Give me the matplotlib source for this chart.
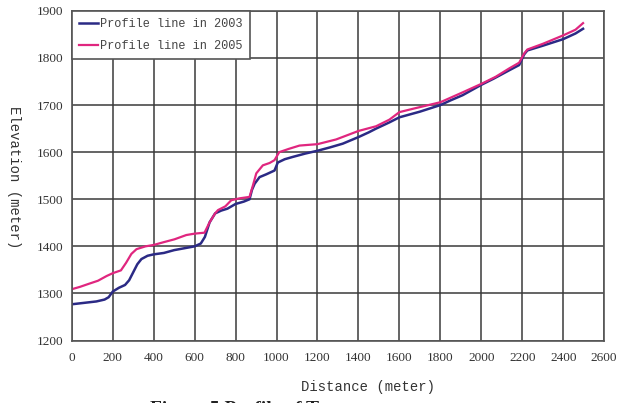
import matplotlib
matplotlib.use("Agg")
from matplotlib import pyplot as plt

# distance (m) / elevation (m)
dist_2003 = [0, 40, 80, 120, 160, 180, 200, 230, 260, 280, 300, 320, 340, 370, 400, 450, 500, 550, 600,
             630, 650, 673, 700, 730, 760, 800, 840, 868, 880, 893, 917, 950, 990, 1006, 1040, 1080,
             1140, 1200, 1260, 1323, 1400, 1450, 1486, 1550, 1600, 1700, 1800, 1850, 1909, 2000,
             2060, 2137, 2185, 2210, 2225, 2300, 2400, 2460, 2497]
elev_2003 = [1277, 1279, 1281, 1283, 1287, 1292, 1304, 1312, 1318, 1328, 1345, 1362, 1373, 1380, 1383,
             1386, 1392, 1396, 1400, 1406, 1420, 1451, 1470, 1476, 1480, 1490, 1495, 1500, 1520, 1533,
             1547, 1553, 1561, 1578, 1585, 1590, 1597, 1603, 1610, 1618, 1632, 1642, 1650, 1663, 1674,
             1686, 1700, 1710, 1721, 1743, 1756, 1774, 1785, 1808, 1816, 1826, 1840, 1852, 1862]

dist_2005 = [0, 40, 80, 128, 170, 200, 240, 265, 291, 316, 360, 400, 450, 502, 559, 600, 648, 673, 700,
             714, 750, 779, 820, 868, 885, 901, 933, 966, 990, 1013, 1060, 1112, 1200, 1291, 1400,
             1486, 1551, 1600, 1665, 1800, 1909, 2000, 2070, 2137, 2185, 2210, 2225, 2300, 2400,
             2460, 2497]
elev_2005 = [1309, 1314, 1320, 1327, 1337, 1343, 1349, 1365, 1384, 1394, 1400, 1403, 1409, 1415, 1424,
             1427, 1429, 1451, 1470, 1477, 1485, 1498, 1502, 1505, 1530, 1555, 1572, 1577, 1583, 1600,
             1607, 1614, 1617, 1627, 1645, 1655, 1669, 1685, 1692, 1706, 1727, 1745, 1760, 1778, 1790,
             1810, 1818, 1830, 1848, 1860, 1874]

xticks = list(range(0, 2601, 200))
yticks = list(range(1200, 1901, 100))

mono = "Liberation Mono"
serif = "Liberation Serif"

fig = plt.figure(figsize=(6.19, 4.03), dpi=100)
ax = fig.add_axes([0.116, 0.155, 0.86, 0.818])

ax.plot(dist_2003, elev_2003, color="#2b2a85", lw=1.8, label="Profile line in 2003")
ax.plot(dist_2005, elev_2005, color="#e0267f", lw=1.6, label="Profile line in 2005")

ax.set_xlim(0, 2600)
ax.set_ylim(1200, 1900)
ax.set_xticks(xticks)
ax.set_yticks(yticks)
ax.grid(True, color="#3a3a3a", lw=1.1)
ax.set_axisbelow(True)
ax.tick_params(length=0, labelsize=9.5, colors="#333333")
ax.tick_params(axis="x", pad=8)
ax.tick_params(axis="y", pad=6)
for lab in ax.get_xticklabels() + ax.get_yticklabels():
    lab.set_family(serif)
for s in ax.spines.values():
    s.set_color("#555555")
    s.set_linewidth(1.2)

leg = ax.legend(loc="upper left", prop={"family": mono, "size": 8.6}, frameon=True, fancybox=False,
                borderaxespad=0, handlelength=1.6, handletextpad=0.2, borderpad=0.6, labelspacing=0.85,
                framealpha=1)
leg.get_frame().set_edgecolor("#555555")
leg.get_frame().set_linewidth(1.2)
for t in leg.get_texts():
    t.set_color("#444444")

fig.text(0.595, 0.04, "Distance (meter)", family=mono, fontsize=10, color="#333333",
         ha="center", va="center")
fig.text(0.022, 0.56, "Elevation (meter)", family=mono, fontsize=10, color="#333333",
         rotation=270, ha="center", va="center")
# caption is cut by the bottom edge in the source image
fig.text(0.242, 0.004, "Figure 5 Profile of Transect", family=serif, fontsize=14, fontweight="bold",
         color="#222222", ha="left", va="top")

fig.savefig("out.png", dpi=100)
